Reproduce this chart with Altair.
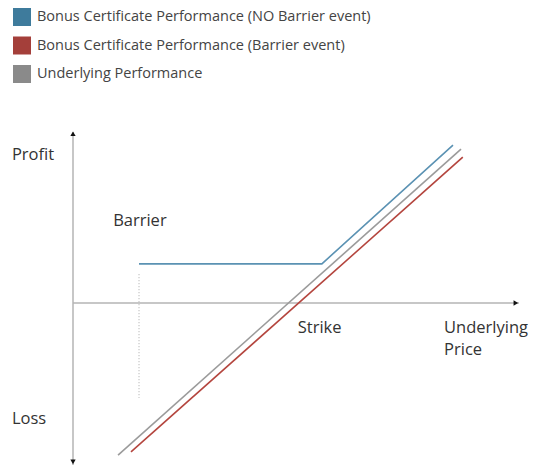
import altair as alt
import pandas as pd

# Series names and colours
series = [
    "Bonus Certificate Performance (NO Barrier event)",
    "Bonus Certificate Performance (Barrier event)",
    "Underlying Performance",
]
legend_colors = ["#3e7b9c", "#a43f3a", "#8a8a8a"]
line_colors = ["#5b92b3", "#b4453e", "#9b9b9b"]

# Payoff lines (x = underlying price units, y = profit units)
blue_x = [14.8, 55.8, 85.2]
blue_y = [8.7, 8.7, 35.1]
red_x = [13.0, 87.4]
red_y = [-33.1, 32.4]
gray_x = [10.1, 87.0]
gray_y = [-33.8, 34.2]

# Barrier dotted guide
barrier_x = 14.8
barrier_y = [6.4, -21.1]

# Axis extents
x_domain = [0, 100]
y_domain = [-36, 38]

# Annotation labels
label_text = ["Profit", "Loss", "Barrier", "Strike", "Underlying", "Price"]
label_x = [-13.7, -13.7, 9.0, 50.4, 83.2, 83.2]
label_y = [31.8, -26.9, 17.1, -6.7, -6.7, -11.6]

FONT = "Open Sans"

rows = []
for name, xs, ys in zip(series, [blue_x, red_x, gray_x], [blue_y, red_y, gray_y]):
    for i, (xv, yv) in enumerate(zip(xs, ys)):
        rows.append({"series": name, "x": xv, "y": yv, "order": i})
lines_df = pd.DataFrame(rows)

xs = alt.X("x:Q", scale=alt.Scale(domain=x_domain, nice=False, zero=False), axis=None)
ys = alt.Y("y:Q", scale=alt.Scale(domain=y_domain, nice=False, zero=False), axis=None)

# Axis rules
axes_df = pd.DataFrame({
    "x": [0, 0], "x2": [0, x_domain[1]],
    "y": [y_domain[0], 0], "y2": [y_domain[1], 0],
})
axes = alt.Chart(axes_df).mark_rule(color="#b5b5b5", strokeWidth=1.5).encode(
    x=xs, y=ys, x2="x2:Q", y2="y2:Q"
)

arrows_df = pd.DataFrame({
    "x": [0, 0, 99.3],
    "y": [37.6, -35.3, 0],
    "shape": ["triangle-up", "triangle-down", "triangle-right"],
})
arrows = alt.Chart(arrows_df).mark_point(filled=True, color="#111", size=28, opacity=1).encode(
    x=xs, y=ys, shape=alt.Shape("shape:N", scale=None, legend=None)
)

barrier_df = pd.DataFrame({"x": [barrier_x], "y": [barrier_y[0]], "y2": [barrier_y[1]]})
barrier_rule = alt.Chart(barrier_df).mark_rule(color="#aaaaaa", strokeWidth=1, strokeDash=[1, 2]).encode(
    x=xs, y=ys, y2="y2:Q"
)

lines = alt.Chart(lines_df).mark_line(strokeWidth=1.6).encode(
    x=xs, y=ys, order="order:Q",
    color=alt.Color("series:N", scale=alt.Scale(domain=series, range=line_colors), legend=None),
)

legend_layer = alt.Chart(lines_df).mark_square(opacity=0, size=1).encode(
    x=xs, y=ys,
    color=alt.Color(
        "series:N",
        scale=alt.Scale(domain=series, range=legend_colors),
        legend=alt.Legend(
            title=None, orient="none", legendX=-60, legendY=-124,
            symbolType="square", symbolSize=324, symbolOpacity=1, symbolStrokeWidth=0,
            labelFont=FONT, labelFontSize=14.5, labelColor="#444444", labelLimit=600,
            labelOffset=6, rowPadding=10.5, padding=0,
        ),
    ),
)

labels_df = pd.DataFrame({"text": label_text, "x": label_x, "y": label_y})
labels = alt.Chart(labels_df).mark_text(
    align="left", baseline="alphabetic", font=FONT, fontSize=16.5, color="#333333"
).encode(x=xs, y=ys, text="text:N")

chart = alt.layer(axes, barrier_rule, lines, legend_layer, arrows, labels).resolve_scale(
    color="independent"
).properties(
    width=446, height=333,
    autosize=alt.AutoSizeParams(type="none"),
    padding={"left": 65, "top": 124, "right": 10, "bottom": 0},
).configure_view(stroke=None)

chart.save("out.html", embed_options={"renderer": "svg", "actions": False})
